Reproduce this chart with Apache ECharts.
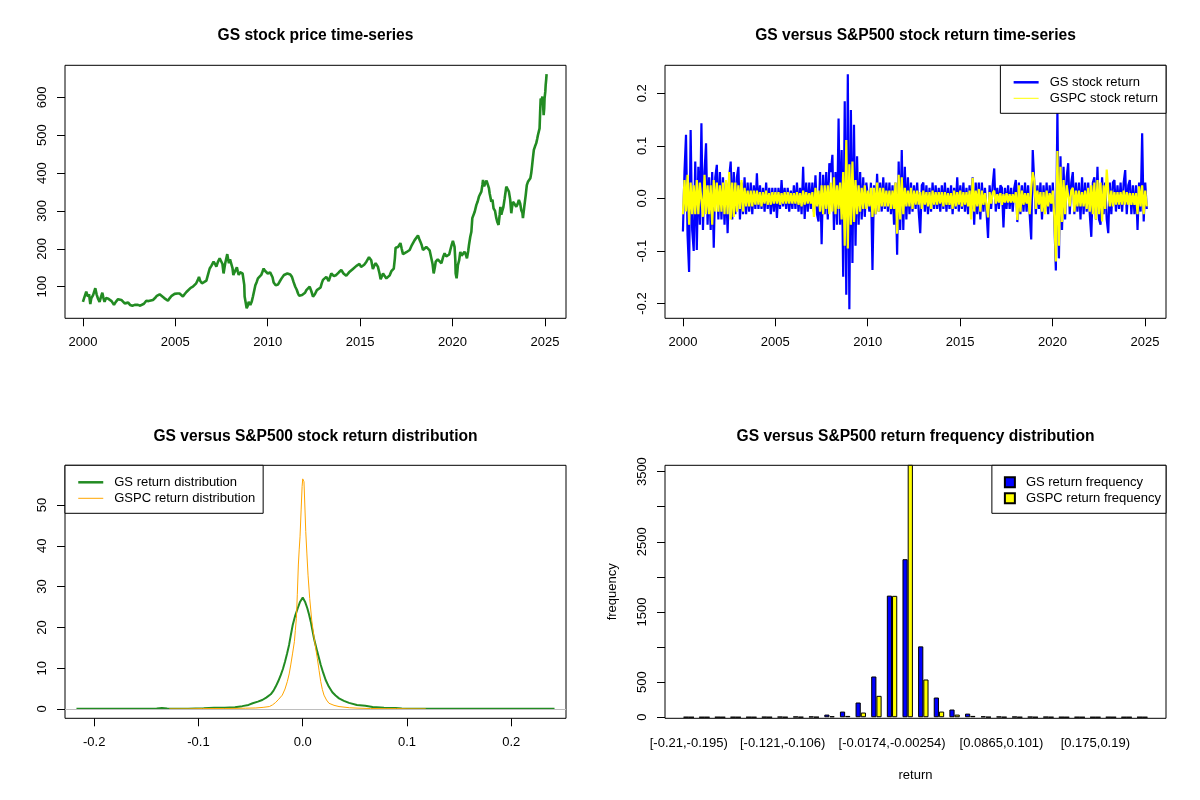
<!DOCTYPE html>
<html>
<head>
<meta charset="utf-8">
<title>GS versus S&amp;P500</title>
<script src="https://cdn.jsdelivr.net/npm/echarts@6/dist/echarts.min.js"></script>
<style>
html,body{margin:0;padding:0;background:#fff}
#main{width:1200px;height:800px}
</style>
</head>
<body>
<div id="main"></div>
<script>
// GS close price (decimal year, price)
var priceYear = [2000.00,2000.06,2000.12,2000.18,2000.27,2000.33,2000.40,2000.45,2000.55,2000.67,2000.74,2000.81,2000.90,2000.97,
2001.05,2001.11,2001.17,2001.25,2001.32,2001.38,2001.44,2001.55,2001.62,2001.68,2001.78,2001.84,2001.90,
2002.00,2002.08,2002.17,2002.26,2002.35,2002.45,2002.55,2002.62,2002.68,2002.74,2002.80,2002.89,2002.98,
2003.10,2003.19,2003.30,2003.43,2003.55,2003.65,2003.79,2003.90,2004.00,2004.15,2004.25,2004.40,2004.50,2004.60,2004.70,2004.80,2004.96,
2005.10,2005.23,2005.32,2005.41,2005.50,2005.60,2005.70,2005.83,2005.95,2006.05,2006.13,2006.22,2006.28,2006.35,2006.44,2006.55,2006.62,2006.68,2006.78,2006.86,2006.95,
2007.07,2007.15,2007.22,2007.30,2007.40,2007.49,2007.55,2007.61,2007.66,2007.70,2007.76,2007.81,2007.86,2007.90,2007.96,
2008.03,2008.09,2008.14,2008.20,2008.25,2008.33,2008.38,2008.43,2008.50,2008.57,2008.64,2008.70,2008.73,2008.75,2008.80,2008.86,2008.92,2008.97,
2009.02,2009.06,2009.13,2009.20,2009.27,2009.33,2009.40,2009.47,2009.55,2009.65,2009.72,2009.78,2009.85,2009.92,
2010.00,2010.07,2010.13,2010.19,2010.26,2010.32,2010.38,2010.43,2010.50,2010.56,2010.64,2010.75,2010.88,2010.97,
2011.06,2011.15,2011.22,2011.31,2011.40,2011.49,2011.57,2011.64,2011.70,2011.78,2011.86,2011.94,
2012.02,2012.09,2012.18,2012.27,2012.36,2012.45,2012.55,2012.66,2012.76,2012.86,2012.93,2012.99,
2013.08,2013.17,2013.30,2013.44,2013.58,2013.71,2013.85,2013.98,2014.10,2014.25,2014.40,2014.50,2014.61,2014.80,2014.97,
2015.05,2015.12,2015.22,2015.34,2015.48,2015.60,2015.69,2015.76,2015.84,2015.96,2016.05,2016.11,2016.24,2016.33,2016.42,2016.50,2016.60,2016.69,2016.82,2016.88,2016.92,
2017.05,2017.18,2017.25,2017.32,2017.41,2017.50,2017.60,2017.68,2017.80,2017.95,2018.05,2018.13,2018.20,2018.26,2018.33,2018.40,2018.50,2018.58,2018.67,2018.76,2018.85,2018.92,2018.98,
2019.04,2019.09,2019.20,2019.30,2019.40,2019.50,2019.57,2019.66,2019.75,2019.82,2019.88,2019.95,
2020.02,2020.11,2020.15,2020.17,2020.22,2020.26,2020.29,2020.36,2020.42,2020.49,2020.56,2020.65,2020.72,2020.78,2020.85,2020.89,2020.96,
2021.02,2021.07,2021.14,2021.20,2021.29,2021.36,2021.43,2021.50,2021.56,2021.62,2021.65,2021.71,2021.77,2021.84,2021.92,2021.97,
2022.01,2022.10,2022.16,2022.22,2022.30,2022.37,2022.43,2022.49,2022.55,2022.59,2022.64,2022.68,2022.75,2022.82,2022.91,2022.98,
2023.05,2023.12,2023.18,2023.22,2023.27,2023.36,2023.45,2023.52,2023.59,2023.66,2023.72,2023.78,2023.81,2023.88,2023.96,
2024.02,2024.08,2024.15,2024.21,2024.26,2024.30,2024.35,2024.40,2024.46,2024.53,2024.58,2024.62,2024.66,2024.71,2024.74,2024.77,2024.82,2024.86,2024.90,2024.93,2024.96,2024.98,
2025.02,2025.04,2025.07,2025.09]
var priceValue = [60,69,64,87,74,80,54,69,78,96,80,69,60,72,
84,70,60,70,74,68,73,62,60,52,60,58,67,
70,65,62,56,60,58,52,54,50,46,52,56,52,
50,47,55,63,62,65,65,70,76,80,76,70,66,63,70,76,81,
82,82,78,74,80,86,88,97,100,104,109,118,126,115,109,112,110,116,134,148,155,
166,160,153,165,175,178,160,135,150,162,175,186,172,162,172,
170,150,131,138,140,151,140,131,138,142,135,131,105,74,60,43,50,60,
55,52,60,74,90,104,112,122,125,131,140,148,142,137,
135,131,138,141,125,111,108,104,108,106,113,122,131,133,
135,130,132,126,112,100,92,82,76,72,78,74,
84,91,96,100,88,74,80,91,95,98,110,118,
122,126,115,135,128,131,138,144,135,129,138,142,147,155,160,
152,147,158,166,178,170,147,155,162,153,135,120,135,128,122,118,130,141,148,175,203,
205,215,200,186,188,191,195,197,210,223,228,235,226,219,210,197,200,205,205,196,192,160,135,
150,166,172,177,162,180,188,180,177,185,197,210,
221,205,170,135,122,140,157,170,192,182,179,192,185,175,195,210,232,
245,281,285,298,316,325,338,340,351,370,382,365,373,380,382,360,
346,324,330,307,300,281,270,263,290,311,290,298,310,333,364,360,
351,330,294,310,324,318,311,318,329,320,302,295,281,310,342,
368,377,382,386,400,417,440,461,470,479,490,500,505,518,560,597,590,602,580,553,570,597,
615,632,648,661]

// daily-return samples, in percent, 12 per year from 2000.0 to 2025.1
var retStart = 2000.0
var retEnd = 2025.1
var gsReturn = [
-6.3,5,12.1,-7,-14,13,-6,-10,7,-9.8,6,-5,
14.3,-6,5,10.5,-5,4,-6,5,-9.4,4,6.4,-4,
5,-4,4,-5,3,-6.6,4,7,-4,5,-3,4,
6,-4,3,-3,4,-3,3,-2.5,3,-3,2.5,-2,
4.8,-2,2.5,-2,2,-2.5,3,-2,2,-3,2,-2.5,
2,-3.7,2,-2,3.5,-1.5,2,-2,2,-2.5,1.5,-2,
2.5,-2,3,-2.5,2,-3,6,-3.9,3,-2.5,3,-2,
3,-2.5,4.4,-3,-4.4,5,-8.7,4.5,-3,5,-4,6.7,
5,8.3,-6,5,-5,15.2,-5,9.2,-14.9,18.5,-18.3,23.6,
-21.1,16.8,-12.3,14,-9,8,-5,5,-4,4,-3.5,3,
3,-2.5,3,-13.6,2.5,-3,4.7,-2.5,3,-2.5,4,-2,
3,-2.5,3,-3,2.5,-5,3,-10.7,7,-6,9.2,-6,
6,-4,4,-3,3,-2.5,2.5,-2,3,-2.5,-6.6,2.5,
3,-2.5,2.5,-3,2,-2.5,3,-2,2.5,-2,2,-2.5,
2.5,-2,3,-2.5,2,-2,2.5,-3,2,-2,4,-2.5,
2.5,-2,3,-2.5,2,-3,2.5,-2,4,-5,3,-3,
3,-4,3,-2.5,2,-2.5,-7.5,2.5,-2,2.5,5.7,-2.5,
2,-2,2.5,2,-5.5,2,-2,2.5,-2,2,-2.5,2,
3.5,-4.5,3,-3,2.5,-2.5,3,-2.5,2.5,-3,-7.8,9.2,
3,-3,2.5,-2,3,-4,2.5,-2.5,3,-3,2.5,-2.5,
3,-4,-13.7,17,-11.4,8,-6,6,-4,4,6.7,-3,
3,5,-3,3,-2.5,3,-4,4,-3,3,-2.5,3,
-3,-7.3,3,4,-4,6,-4,-5,4,-3,3,-4,
-6.6,3,-3,3,3.5,-2.5,2.5,-2,3,-2.5,3,5.4,
-3,2.5,3.5,-3,2.5,-3,2.5,-6,3,-2.5,12.4,-4.4,
3,-2]
var gspcReturn = [
-3,3.5,-2.5,4.5,-5,3,-3,2.5,-3,3.5,-3,3,
3,-3.5,4.5,-3,2.5,-3,2.5,-5,3.5,-2.5,3,-2.5,
2.5,-2.5,3,-3,3.5,-3,5,-4,3,-3.5,3,-2.5,
2.5,-2,3.5,-2.5,2,-1.5,1.5,-1.5,1.5,-1.5,1.5,-1.2,
1.5,-1.2,1.2,-1.5,1.2,-1,1.5,-1.2,1,-1.2,1.2,-1,
1.2,-1,1.2,-1.2,1,-1,1.2,-1,1.2,-1,1,-1,
1,-1,1.2,-1.2,1,-1.5,1.5,-1.2,1.2,-1,1,-1,
1.2,-3.5,2,-1.5,1.5,-2.5,2.5,-3,2.5,-2,2.5,-3,
3,-2.5,4,-3,2.5,-2,3,-4,5,-9,11.1,-9.5,
6.5,-5,7,-4.5,3.5,-3,2.5,-2.5,2,-2,2.5,-2,
1.5,-1.5,2,-3.5,2,-3,3,-2.5,2,-1.5,2,-1.5,
1.5,-1.5,1.5,-2,1.5,-2,3,-6.7,4.5,-4,4,-3,
2,-1.5,1.5,-1.5,2,-2,1.5,-1.2,1.5,-1.2,1.2,-2,
1.5,-1.2,1.2,-1.5,1.2,-2,1.5,-1.2,1.2,-1.2,1.2,-1,
1.2,-1.5,1.2,-1.2,1,-1.2,1,-2,1.5,-1.5,1.2,-1.2,
1.5,-1.5,1.2,-1.2,1.2,-1.5,1.5,-4,3.9,-2.5,1.5,-1.5,
1.8,-2.5,1.5,-1.2,1,-1.2,-3.6,1.2,-1,1,1.5,-1,
0.8,-0.8,1,-1.2,0.8,-0.8,1,-0.8,0.8,-0.8,0.8,-0.8,
1.2,-4.1,2.5,-2.5,1.5,-1.2,1,-1,1,-3,2,5,
3.4,-2,1.5,-1.2,1.2,-2.5,1.2,-3,1.5,-1.5,1,-1,
1.5,-3.4,-12,9,-9,6,-4.5,3.5,-3,2.5,2.5,-1.5,
1.5,2,-2.5,1.5,-1.5,1.5,-1.5,1.2,-1.5,1.5,-2,2,
-2.5,2.5,-3,3,-4,3.5,-3,3,-4.4,2.5,-2,5.5,
1.5,-1.5,1.5,-1.5,1.2,-1.2,1.2,-1.2,1.2,-1.2,1.5,-1.2,
1.2,-1.2,1,-1.2,1,-1.2,1,-3,2.3,-1.5,2.5,-3,
1.5,-1.5]

// kernel density estimates
var gsDensX = [-0.217,-0.19,-0.16,-0.14,-0.135,-0.13,-0.11,-0.095,-0.085,-0.075,-0.065,-0.058,-0.052,-0.048,-0.043,-0.0388,-0.035,-0.0307,-0.028,-0.0259,-0.0235,-0.0211,-0.019,-0.017,-0.015,-0.0131,-0.0115,-0.0096,-0.0072,-0.0048,-0.0025,0,0.0022,0.0044,0.006,0.0077,0.0092,0.0108,0.0124,0.014,0.0157,0.0173,0.0196,0.022,0.025,0.0284,0.0315,0.0348,0.0395,0.0444,0.052,0.06,0.067,0.078,0.089,0.095,0.12,0.16,0.2,0.2415]
var gsDensY = [0.05,0.05,0.06,0.1,0.25,0.1,0.08,0.2,0.3,0.3,0.45,0.7,1.0,1.4,1.8,2.2,2.8,3.6,4.5,5.5,6.8,8.3,9.8,11.6,13.6,15.7,18.0,20.6,22.9,24.7,26.3,27.3,26.3,24.7,23.2,21.4,19.4,17.3,15.6,14.0,12.4,10.8,8.9,7.1,5.5,4.1,3.3,2.6,2.0,1.5,1.0,0.8,0.5,0.3,0.25,0.1,0.06,0.05,0.05,0.04]
var gspcDensX = [-0.128,-0.11,-0.096,-0.085,-0.075,-0.065,-0.055,-0.045,-0.038,-0.032,-0.029,-0.026,-0.023,-0.0196,-0.017,-0.0148,-0.013,-0.0115,-0.0098,-0.008,-0.0071,-0.0061,-0.0052,-0.0042,-0.0034,-0.0026,-0.0015,-0.0006,0,0.0006,0.0012,0.002,0.0029,0.004,0.0051,0.0067,0.0086,0.011,0.0125,0.014,0.0157,0.0173,0.0188,0.0204,0.0228,0.0252,0.03,0.0348,0.045,0.054,0.065,0.08,0.09,0.1,0.118]
var gspcDensY = [0.02,0.03,0.1,0.12,0.12,0.15,0.2,0.25,0.4,0.6,1.0,1.6,2.4,3.4,4.9,6.7,8.6,10.8,13.5,16.5,19.2,22.2,28,35.3,39,42.2,49,54.5,56.4,56.2,55.7,50,43.5,38,32.8,27.1,21.8,17.3,14.8,12.4,9.4,6.7,4.8,3.4,2.2,1.4,0.9,0.6,0.3,0.2,0.12,0.08,0.1,0.04,0.02]

// return frequency by bin
var binLabels = ['[-0.21,-0.195)','[-0.195,-0.181)','[-0.181,-0.166)','[-0.166,-0.151)','[-0.151,-0.136)',
'[-0.136,-0.121)','[-0.121,-0.106)','[-0.106,-0.0916)','[-0.0916,-0.0767)','[-0.0767,-0.0619)',
'[-0.0619,-0.047)','[-0.047,-0.0322)','[-0.0322,-0.0174)','[-0.0174,-0.00254)','[-0.00254,0.0123)',
'[0.0123,0.0271)','[0.0271,0.042)','[0.042,0.0568)','[0.0568,0.0716)','[0.0716,0.0865)',
'[0.0865,0.101)','[0.101,0.116)','[0.116,0.131)','[0.131,0.146)','[0.146,0.161)',
'[0.161,0.175)','[0.175,0.19)','[0.19,0.205)','[0.205,0.22)','[0.22,0.235]']
var shownBins = [0, 6, 13, 20, 26]
var gsFreq = [1,0,1,1,1,3,5,8,9,38,81,210,581,1733,2252,1010,281,110,52,12,8,7,5,4,1,1,0,1,0,1]
var gspcFreq = [0,0,0,0,0,1,1,2,3,14,19,67,305,1730,3600,538,81,38,19,3,2,1,1,1,0,0,0,0,0,0]

var yearTicks = [2000, 2005, 2010, 2015, 2020, 2025]
var priceTicks = [100, 200, 300, 400, 500, 600]
var retTicks = [-0.2, -0.1, 0, 0.1, 0.2]
var densTicks = [0, 10, 20, 30, 40, 50]
var freqTicks = [0, 500, 1000, 1500, 2000, 2500, 3000, 3500]
var freqLabels = [0, 500, 1500, 2500, 3500]

var font = 'Liberation Sans, Arial, sans-serif'

var pricePts = priceYear.map(function(y, i){ return [y, priceValue[i]] })
var retStep = (retEnd - retStart) / (gsReturn.length - 1)
var gsPts = gsReturn.map(function(v, i){ return [retStart + i * retStep, v / 100] })
var gspcPts = gspcReturn.map(function(v, i){ return [retStart + i * retStep, v / 100] })
var gsDens = gsDensX.map(function(x, i){ return [x, gsDensY[i]] })
var gspcDens = gspcDensX.map(function(x, i){ return [x, gspcDensY[i]] })

function fix1(v){ return v.toFixed(1) }
function plain(v){ return String(v) }

function valAxis(grid, min, max, ticks, fmt, isY, labels){
    return {
        type: 'value', gridIndex: grid, min: min, max: max,
        axisLine: {show: false, onZero: false},
        splitLine: {show: false},
        axisTick: {show: true, length: 8, customValues: ticks, lineStyle: {color: '#000', width: 1}},
        axisLabel: {
            show: true, customValues: labels || ticks, formatter: fmt || plain,
            rotate: isY ? 90 : 0, margin: isY ? 16 : 18,
            color: '#000', fontSize: 13, fontFamily: font
        }
    }
}
function hiddenAxis(grid, min, max){
    return {type: 'value', gridIndex: grid, min: min, max: max, show: false,
        axisLine: {onZero: false}, splitLine: {show: false}}
}
function frame(left, top){
    return {left: left, top: top, width: 501, height: 253, show: true,
        borderColor: '#000', borderWidth: 1, backgroundColor: 'transparent', outerBoundsMode: 'none'}
}
function titleAt(text, cx, top){
    return {text: text, left: cx, top: top, textAlign: 'center', padding: 0,
        textStyle: {fontSize: 15.6, fontWeight: 'bold', fontFamily: font, color: '#000'}}
}
function lineKey(name, width){
    return {name: name, itemStyle: {opacity: 0}, lineStyle: {width: width}}
}
function legendBox(names, pos, icon){
    var o = {
        data: names, orient: 'vertical', top: 65.3,
        borderColor: '#000', borderWidth: 1, borderRadius: 0,
        padding: [10, 8, 8, 12], itemGap: 2,
        itemWidth: icon ? 10 : 25, itemHeight: icon ? 10 : 14,
        textStyle: {fontSize: 13, fontFamily: font, color: '#000', lineHeight: 14, padding: [0, 0, 0, 6]},
        selectedMode: false, backgroundColor: '#fff'
    }
    if (icon) o.icon = icon
    for (var k in pos) o[k] = pos[k]
    return o
}

var chart = echarts.init(document.getElementById('main'), null, {renderer: 'canvas'})
chart.setOption({
    animation: false,
    backgroundColor: '#fff',
    title: [
        titleAt('GS stock price time-series', 315.5, 28),
        titleAt('GS versus S&P500 stock return time-series', 915.5, 28),
        titleAt('GS versus S&P500 stock return distribution', 315.5, 429),
        titleAt('GS versus S&P500 return frequency distribution', 915.5, 429)
    ],
    legend: [
        legendBox([lineKey('GS stock return', 2.5), lineKey('GSPC stock return', 1)], {right: 34}),
        legendBox([lineKey('GS return distribution', 2.5), lineKey('GSPC return distribution', 1)], {left: 65, top: 465.3}),
        legendBox(['GS return frequency', 'GSPC return frequency'], {right: 34, top: 465.3, padding: [10, 5, 8, 12]}, 'rect')
    ],
    grid: [
        frame(65, 65.3),
        frame(665, 65.3),
        frame(65, 465.3),
        frame(665, 465.3),
        {left: 680.95, top: 465.3, width: 469.1, height: 253, show: false, outerBoundsMode: 'none'}
    ],
    xAxis: [
        valAxis(0, 1999.03, 2026.14, yearTicks, null, false),
        valAxis(1, 1999.03, 2026.14, yearTicks, null, false),
        valAxis(2, -0.228, 0.2525, retTicks, fix1, false),
        hiddenAxis(3, 0, 1),
        {
            type: 'category', gridIndex: 4, data: binLabels,
            axisLine: {show: false, onZero: false}, axisTick: {show: false}, splitLine: {show: false},
            axisLabel: {
                interval: function(index){ return shownBins.indexOf(index) >= 0 },
                margin: 19, color: '#000', fontSize: 13, fontFamily: font
            },
            name: 'return', nameLocation: 'middle', nameGap: 51,
            nameTextStyle: {fontSize: 13, fontFamily: font, color: '#000'}
        }
    ],
    yAxis: [
        valAxis(0, 16.6, 684.5, priceTicks, null, true),
        valAxis(1, -0.228, 0.2532, retTicks, fix1, true),
        valAxis(2, -2.28, 59.73, densTicks, null, true),
        (function(){
            var a = valAxis(3, -15, 3590, freqTicks, null, true, freqLabels)
            a.name = 'frequency'
            a.nameLocation = 'middle'
            a.nameGap = 46
            a.nameRotate = 90
            a.nameTextStyle = {fontSize: 13, fontFamily: font, color: '#000'}
            return a
        })(),
        hiddenAxis(4, -15, 3590)
    ],
    series: [
        {
            name: 'GS price', type: 'line', xAxisIndex: 0, yAxisIndex: 0,
            data: pricePts, symbol: 'none', color: '#228B22',
            lineStyle: {color: '#228B22', width: 2.6}
        },
        {
            name: 'GS stock return', type: 'line', xAxisIndex: 1, yAxisIndex: 1,
            data: gsPts, symbol: 'none', color: '#0000FF',
            lineStyle: {color: '#0000FF', width: 2.2}
        },
        {
            name: 'GSPC stock return', type: 'line', xAxisIndex: 1, yAxisIndex: 1,
            data: gspcPts, symbol: 'none', color: '#FFFF00',
            lineStyle: {color: '#FFFF00', width: 2.2}
        },
        {
            name: 'GS return distribution', type: 'line', xAxisIndex: 2, yAxisIndex: 2,
            data: gsDens, symbol: 'none', color: '#228B22',
            lineStyle: {color: '#228B22', width: 2},
            markLine: {
                silent: true, symbol: 'none', label: {show: false},
                lineStyle: {color: '#BEBEBE', width: 1, type: 'solid'},
                data: [{yAxis: 0}]
            }
        },
        {
            name: 'GSPC return distribution', type: 'line', xAxisIndex: 2, yAxisIndex: 2,
            data: gspcDens, symbol: 'none', color: '#FFA500',
            lineStyle: {color: '#FFA500', width: 1}
        },
        {
            name: 'GS return frequency', type: 'bar', xAxisIndex: 4, yAxisIndex: 4,
            data: gsFreq, barWidth: '33.33%', barGap: '0%', color: '#0000FF',
            itemStyle: {color: '#0000FF', borderColor: '#000', borderWidth: 1}
        },
        {
            name: 'GSPC return frequency', type: 'bar', xAxisIndex: 4, yAxisIndex: 4,
            data: gspcFreq, barWidth: '33.33%', barGap: '0%', color: '#FFFF00',
            itemStyle: {color: '#FFFF00', borderColor: '#000', borderWidth: 1}
        }
    ]
})
</script>
</body>
</html>
